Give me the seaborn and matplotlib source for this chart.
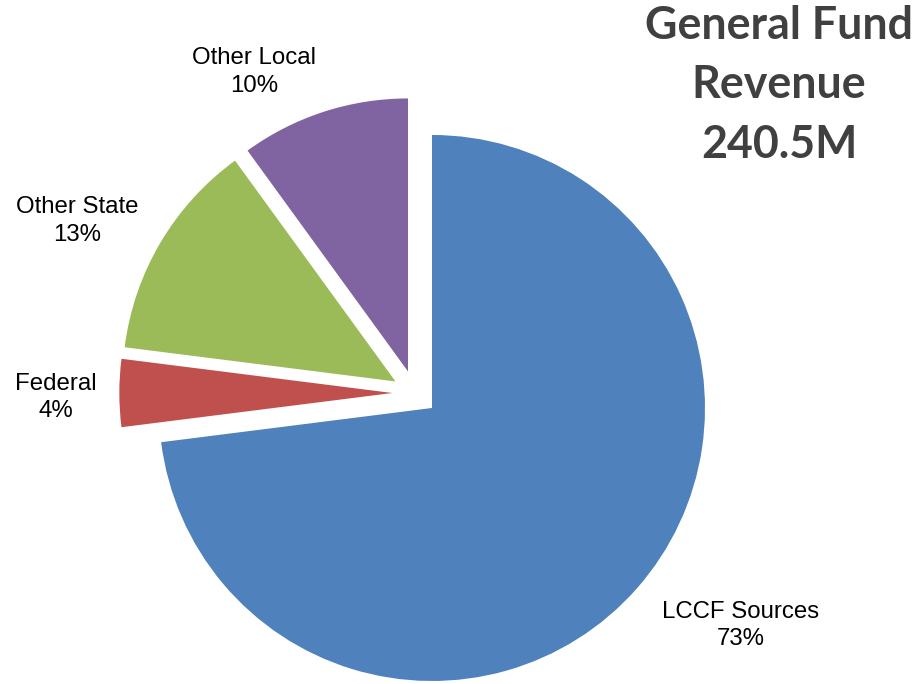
import matplotlib
matplotlib.use("Agg")
import matplotlib.pyplot as plt
import seaborn as sns

categories = ["LCCF Sources", "Federal", "Other State", "Other Local"]
shares = [73, 4, 13, 10]
colors = ["#4F81BD", "#C0504D", "#9BBB59", "#8064A2"]
title_lines = ["General Fund", "Revenue", "240.5M"]

sns.set_theme(style="white")
plt.rcParams["font.family"] = ["Liberation Sans", "DejaVu Sans"]

W, H = 922, 684
R = 273.0
cx, cy = 415.0, 393.0  # pie centre in pixels (from top-left)

fig = plt.figure(figsize=(W / 100, H / 100), dpi=100)
ax = fig.add_axes([0, 0, 1, 1])
ax.pie(shares, colors=colors, startangle=90, counterclock=False,
       explode=[0.083] * len(shares), radius=1.0,
       wedgeprops=dict(linewidth=0))
ax.set_xlim(-cx / R, (W - cx) / R)
ax.set_ylim(-(H - cy) / R, cy / R)
ax.set_aspect("equal")
ax.axis("off")

def px(x, y):
    return (x - cx) / R, (cy - y) / R

label_pos = [(741, 612, 639), (56, 384, 411), (77, 207, 235), (254, 58, 86)]
for cat, val, (x, y1, y2) in zip(categories, shares, label_pos):
    ax.text(*px(x, y1), cat, ha="center", va="center", fontsize=17.3, color="#000000")
    ax.text(*px(x, y2), f"{val}%", ha="center", va="center", fontsize=17.3, color="#000000")

for line, y in zip(title_lines, [26, 85, 145]):
    ax.text(*px(779, y), line, ha="center", va="center", fontsize=32.2,
            fontweight="bold", color="#404040", family=["Lato", "DejaVu Sans"])

fig.savefig("out.png", dpi=100)
